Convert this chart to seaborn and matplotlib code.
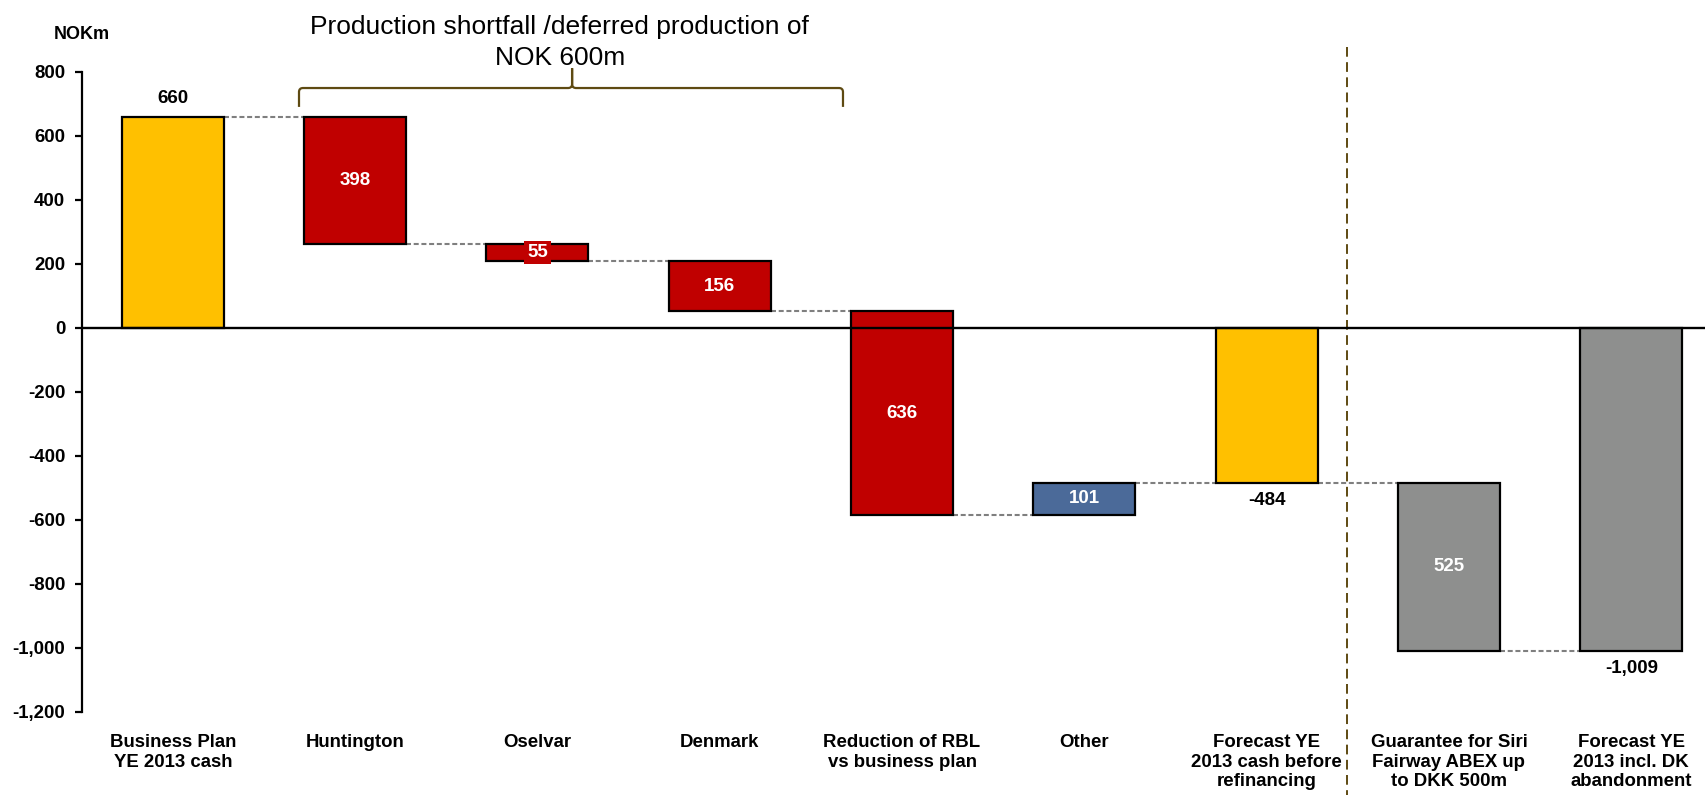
import numpy as np
import pandas as pd
import seaborn as sns
import matplotlib
matplotlib.use("Agg")
import matplotlib.pyplot as plt
from matplotlib.path import Path
from matplotlib.patches import PathPatch
from matplotlib.ticker import FuncFormatter

# ---- data -------------------------------------------------------------
categories = [
    "Business Plan\nYE 2013 cash",
    "Huntington",
    "Oselvar",
    "Denmark",
    "Reduction of RBL\nvs business plan",
    "Other",
    "Forecast YE\n2013 cash before\nrefinancing",
    "Guarantee for Siri\nFairway ABEX up\nto DKK 500m",
    "Forecast YE\n2013 incl. DK\nabandonment",
]
# totals are absolute levels, the others are changes to the running level
steps = [660, -398, -55, -156, -636, 101, -484, -525, -1009]
is_total = [True, False, False, False, False, False, True, False, True]
bar_labels = ["660", "398", "55", "156", "636", "101", "-484", "525", "-1,009"]
y_ticks = [-1200, -1000, -800, -600, -400, -200, 0, 200, 400, 600, 800]

YELLOW, RED, BLUE, GREY = "#FFC000", "#C00000", "#4B6A99", "#8E8F8E"
bar_colors = [YELLOW, RED, RED, RED, RED, BLUE, YELLOW, GREY, GREY]
BRACE = "#5E4A12"

# ---- waterfall geometry ----------------------------------------------
starts, ends = [], []
level = 0
for s, tot in zip(steps, is_total):
    if tot:
        a, b = 0, s
    else:
        a, b = level, level + s
    starts.append(a)
    ends.append(b)
    level = b

df = pd.DataFrame({"category": categories,
                   "height": np.array(ends) - np.array(starts)})

sns.set_style("white")
plt.rcParams["font.family"] = ["Liberation Sans", "DejaVu Sans"]
plt.rcParams["text.color"] = "black"
plt.rcParams["xtick.color"] = "black"
plt.rcParams["ytick.color"] = "black"
plt.rcParams["xtick.labelcolor"] = "black"
plt.rcParams["ytick.labelcolor"] = "black"

W, H = 1706, 795
fig = plt.figure(figsize=(W / 100, H / 100), dpi=100)
ax_l, ax_r, ax_t, ax_b = 81.7, 1706, 71.7, 711.7
ax = fig.add_axes([ax_l / W, 1 - ax_b / H, (ax_r - ax_l) / W, (ax_b - ax_t) / H])

BAR_W = 0.56
sns.barplot(data=df, x="category", y="height", hue="category",
            order=categories, hue_order=categories,
            palette=dict(zip(categories, bar_colors)), saturation=1,
            width=BAR_W, edgecolor="black", linewidth=1.6,
            legend=False, ax=ax, zorder=3)

# float each bar to its starting level
for cont, a in zip(ax.containers, starts):
    for rect in cont:
        rect.set_y(a)

ax.set_xlim(-0.5, 8.41)
ax.set_ylim(-1200, 800)

# dashed connectors between neighbouring bars
for i in range(len(categories) - 1):
    ax.plot([i + BAR_W / 2, i + 1 - BAR_W / 2], [ends[i], ends[i]],
            color="#7F7F7F", lw=1.5, linestyle=(0, (2.4, 1.3)), zorder=2)

ax.axhline(0, color="black", lw=1.7, zorder=4)

# value labels
VAL_FS = 13.5
for i, (a, b, txt) in enumerate(zip(starts, ends, bar_labels)):
    if is_total[i]:
        if b >= 0:
            ax.annotate(txt, (i, b), xytext=(0, 7), textcoords="offset points",
                        ha="center", va="bottom", fontsize=VAL_FS,
                        fontweight="bold", color="black", zorder=5)
        else:
            ax.annotate(txt, (i, b), xytext=(0, -7), textcoords="offset points",
                        ha="center", va="top", fontsize=VAL_FS,
                        fontweight="bold", color="black", zorder=5)
    else:
        box = None
        if abs(b - a) < 80:
            box = dict(boxstyle="square,pad=0.15", fc=bar_colors[i], ec="none")
        ax.text(i, (a + b) / 2, txt, ha="center", va="center",
                fontsize=VAL_FS, fontweight="bold", color="white",
                bbox=box, zorder=5)

# axes styling
for side in ("top", "right", "bottom"):
    ax.spines[side].set_visible(False)
ax.spines["left"].set_color("black")
ax.spines["left"].set_linewidth(1.6)
ax.set_yticks(y_ticks)
ax.yaxis.set_major_formatter(FuncFormatter(lambda v, p: f"{int(v):,}"))
ax.tick_params(axis="y", left=True, length=4.8, width=1.6, pad=7,
               labelsize=13.4, colors="black")
ax.tick_params(axis="x", bottom=False, length=0, pad=16, labelsize=13.4,
               colors="black")
for lab in ax.get_yticklabels() + ax.get_xticklabels():
    lab.set_fontweight("bold")
ax.set_xlabel("")
ax.set_ylabel("")
ax.grid(False)

ax.text(-0.5, 915, "NOKm", ha="center", va="center", fontsize=13,
        fontweight="bold", color="black", clip_on=False)

# heading over the production items
ax.text(2.123, 918, "Production shortfall /deferred production of",
        ha="center", va="baseline", fontsize=19, color="black", clip_on=False)
ax.text(2.123, 821, "NOK 600m", ha="center", va="baseline", fontsize=19,
        color="black", clip_on=False)

# curly bracket spanning Huntington..Denmark
x0, x1, xm = 0.692, 3.676, 2.19
yb, yh, ytop = 690, 749, 811
rx, ry = 0.022, 12.5
verts = [(x0, yb), (x0, yh - ry), (x0, yh), (x0 + rx, yh),
         (xm - rx, yh), (xm, yh), (xm, yh + ry), (xm, ytop),
         (xm, yh + ry), (xm, yh), (xm + rx, yh),
         (x1 - rx, yh), (x1, yh), (x1, yh - ry), (x1, yb)]
codes = [Path.MOVETO, Path.LINETO, Path.CURVE3, Path.CURVE3,
         Path.LINETO, Path.CURVE3, Path.CURVE3, Path.LINETO,
         Path.LINETO, Path.CURVE3, Path.CURVE3,
         Path.LINETO, Path.CURVE3, Path.CURVE3, Path.LINETO]
ax.add_patch(PathPatch(Path(verts, codes), fill=False, edgecolor=BRACE,
                       lw=1.6, clip_on=False, capstyle="butt"))

# separator between the refinancing forecast and the DK items
ax.plot([6.44, 6.44], [878, -1470], color=BRACE, lw=1.4,
        linestyle=(0, (5, 2.8)), clip_on=False, zorder=1)

fig.savefig("out.png", dpi=100, facecolor="white")
